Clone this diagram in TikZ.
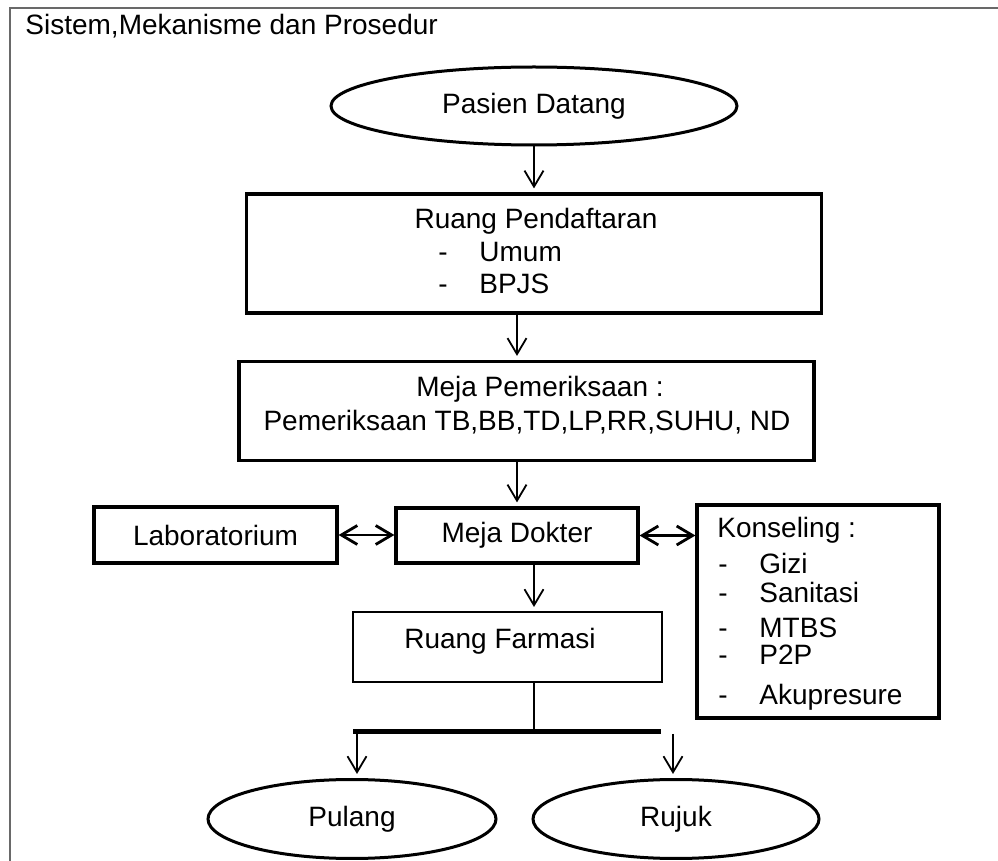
\documentclass[tikz,border=0pt]{standalone}
\usepackage{fontspec}
\setmainfont{Liberation Sans}
\usepackage{tikz}
\usetikzlibrary{shapes.geometric,arrows.meta}
\definecolor{framegray}{RGB}{105,105,105}
\tikzset{
  kotak/.style={draw,rectangle,line width=1.6pt,inner sep=0pt},
  oval/.style={draw,ellipse,line width=1.5pt,inner sep=0pt},
  teks/.style={inner sep=0pt,anchor=base},
  panah/.style={->,line width=0.9pt,shorten >=2pt},
  duapanah/.style={<->,line width=1.4pt},
  >={Straight Barb[length=8pt,width=9.5pt]}
}
\newcommand{\butir}[1]{\makebox[20.5pt][l]{-}#1}

\begin{document}
\begin{tikzpicture}[x=0.5pt,y=-0.5pt,font=\fontsize{14}{17}\selectfont]
\useasboundingbox (0,0) rectangle (998,861);
\draw[framegray,line width=1pt] (998,8) -- (10,8) -- (10,861);
\node[teks,anchor=base west] (judul) at (25,35) {Sistem,Mekanisme dan Prosedur};

%Boxes
\node[oval,minimum width=203pt,minimum height=39pt] (pasien) at (534,106) {Pasien Datang};
\node[kotak,minimum width=287.5pt,minimum height=59.5pt] (daftar) at (534,253.5) {};
\node[kotak,minimum width=287.5pt,minimum height=49.5pt] (periksa) at (526.5,411) {};
\node[kotak,minimum width=121.5pt,minimum height=28pt] (lab) at (215.5,535) {Laboratorium};
\node[kotak,minimum width=121pt,minimum height=27.5pt] (dokter) at (517,535.5) {Meja Dokter};
\node[kotak,minimum width=121pt,minimum height=106.5pt] (konsel) at (818,611.5) {};
\node[kotak,line width=1pt,minimum width=154.5pt,minimum height=35pt] (farmasi) at (507,647) {};
\node[oval,minimum width=144pt,minimum height=39.5pt] (pulang) at (352,819) {Pulang};
\node[oval,minimum width=143pt,minimum height=39.5pt] (rujuk) at (676,819) {Rujuk};

%Texts in boxes
\node[teks] (daftar-t) at (536,229) {Ruang Pendaftaran};
\node[teks,anchor=base west] (umum) at (438,262) {\butir{Umum}};
\node[teks,anchor=base west] (bpjs) at (438,294) {\butir{BPJS}};
\node[teks] (periksa-t) at (540,397) {Meja Pemeriksaan :};
\node[teks] (periksa-i) at (527,431) {Pemeriksaan TB,BB,TD,LP,RR,SUHU, ND};
\node[teks,anchor=base west] (konsel-t) at (717,538) {Konseling :};
\foreach \y/\t [count=\i] in {574/Gizi,603/Sanitasi,638/MTBS,665/P2P,705/Akupresure}
    \node[teks,anchor=base west] (konsel-\i) at (718,\y) {\butir{\t}};
\node[teks] (farmasi-t) at (500,649) {Ruang Farmasi};

%Arrows
\draw[panah] (pasien.south) -- (daftar.north);
\draw[panah] (daftar.south -| dokter) -- (periksa.north -| dokter);
\draw[panah] (periksa.south -| dokter) -- (dokter.north);
\draw[duapanah] (lab.east) -- (lab.east -| dokter.west);
\draw[duapanah] (dokter.east) -- (dokter.east -| konsel.west);
\draw[panah] (dokter.south -| pasien) -- (farmasi.north -| pasien);

\coordinate (barL) at (353,732);
\coordinate (barR) at (661,732);
\coordinate (cabangL) at (357,734);
\coordinate (cabangR) at (673,734);
\draw[line width=0.9pt] (farmasi.south -| pasien) -- (pasien |- barL);
\draw[line width=2.5pt] (barL) -- (barR);
\draw[panah] (cabangL) -- (cabangL |- pulang.north);
\draw[panah] (cabangR) -- (cabangR |- rujuk.north);
\end{tikzpicture}
\end{document}
